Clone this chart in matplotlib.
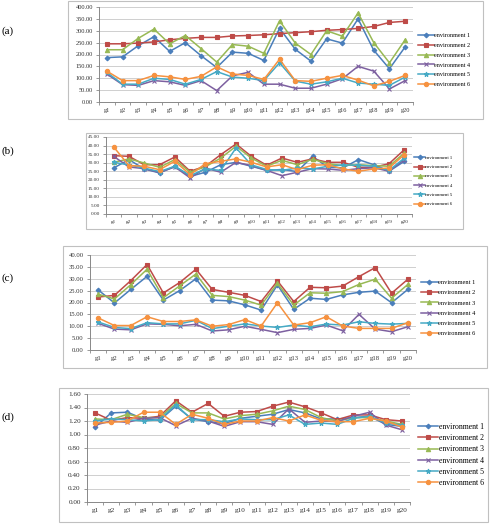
"""Four Excel-style line charts: trait means of 20 genotypes in 6 environments"""

import matplotlib
matplotlib.use('Agg')
import matplotlib.pyplot as plt
from matplotlib.patches import Rectangle
from matplotlib.ticker import MultipleLocator, FormatStrFormatter

GENOTYPES = ['g%d' % i for i in range(1, 21)]
ENV_LABELS = ['environment %d' % i for i in range(1, 7)]

# (a)
A_ENV1 = [187, 190, 237, 275, 213, 250, 195, 145, 210, 205, 175, 310, 222, 172, 266, 248, 350, 218, 140, 232]
A_ENV2 = [245, 245, 248, 253, 262, 268, 272, 272, 278, 280, 283, 288, 292, 296, 302, 305, 310, 318, 335, 340]
A_ENV3 = [220, 220, 268, 307, 245, 280, 225, 168, 242, 235, 205, 342, 248, 200, 300, 277, 375, 250, 165, 262]
A_ENV4 = [118, 73, 70, 90, 85, 70, 90, 48, 110, 125, 75, 75, 58, 58, 75, 98, 150, 130, 55, 90]
A_ENV5 = [125, 75, 75, 100, 95, 75, 95, 128, 105, 100, 90, 165, 88, 75, 85, 100, 80, 75, 70, 105]
A_ENV6 = [130, 90, 90, 112, 106, 95, 108, 148, 118, 112, 95, 180, 90, 87, 100, 112, 92, 68, 87, 112]

# (b)
B_ENV1 = [26.9, 31.8, 26.3, 24.0, 27.9, 22.0, 24.4, 28.8, 30.2, 27.9, 25.5, 26.0, 24.8, 33.7, 27.3, 27.0, 31.8, 28.8, 25.0, 30.8]
B_ENV2 = [34.1, 33.7, 28.8, 28.8, 33.3, 25.0, 27.9, 34.7, 40.9, 33.7, 28.5, 32.7, 30.2, 32.2, 30.2, 30.2, 27.3, 27.3, 29.4, 37.6]
B_ENV3 = [30.2, 32.2, 29.8, 27.3, 31.8, 24.4, 27.6, 32.7, 39.6, 32.7, 27.9, 31.4, 28.8, 32.0, 29.4, 28.3, 28.8, 28.3, 27.9, 35.7]
B_ENV4 = [33.7, 27.5, 26.5, 24.3, 27.5, 21.1, 26.8, 24.4, 30.2, 28.3, 25.5, 22.4, 24.4, 26.5, 26.3, 25.5, 26.5, 27.0, 25.0, 31.8]
B_ENV5 = [30.2, 28.7, 26.8, 24.8, 27.9, 22.5, 26.3, 25.5, 38.6, 28.7, 26.0, 25.5, 26.9, 26.3, 27.9, 28.7, 28.5, 27.9, 25.5, 32.7]
B_ENV6 = [39.2, 28.3, 27.9, 25.9, 30.8, 23.0, 29.4, 30.8, 32.2, 30.2, 27.5, 28.8, 25.9, 28.5, 28.8, 26.3, 25.0, 26.3, 26.9, 34.7]

# (c)
C_ENV1 = [25.3, 19.8, 25.5, 31.0, 21.0, 25.0, 30.0, 21.0, 20.7, 19.0, 16.8, 27.4, 17.1, 21.8, 21.3, 23.2, 24.3, 24.8, 19.9, 25.5]
C_ENV2 = [22.3, 23.0, 29.2, 36.0, 24.0, 28.4, 34.0, 25.5, 24.3, 23.0, 20.4, 29.1, 20.4, 26.4, 26.2, 26.9, 30.9, 34.7, 23.9, 29.8]
C_ENV3 = [23.5, 21.5, 27.5, 34.0, 22.0, 27.0, 32.0, 23.0, 22.5, 21.0, 18.9, 28.1, 18.9, 24.1, 23.9, 24.6, 27.6, 29.8, 21.8, 27.6]
C_ENV4 = [11.2, 8.8, 8.5, 11.0, 10.8, 10.2, 10.8, 8.0, 8.5, 10.0, 8.7, 7.3, 8.7, 9.1, 10.5, 8.1, 15.0, 8.8, 7.7, 9.8]
C_ENV5 = [11.8, 9.5, 9.0, 11.5, 11.0, 11.0, 12.5, 9.0, 10.0, 11.0, 10.1, 9.5, 10.5, 9.8, 10.9, 10.5, 11.9, 11.2, 10.9, 11.2]
C_ENV6 = [13.5, 10.3, 10.3, 14.0, 12.0, 12.0, 12.7, 10.0, 10.7, 12.8, 10.1, 19.9, 10.5, 11.5, 14.0, 10.1, 9.1, 9.1, 9.1, 11.5]

# (d)
D_ENV1 = [1.11, 1.32, 1.33, 1.23, 1.21, 1.42, 1.23, 1.19, 1.16, 1.24, 1.27, 1.30, 1.37, 1.32, 1.23, 1.23, 1.25, 1.27, 1.15, 1.12]
D_ENV2 = [1.32, 1.21, 1.25, 1.24, 1.27, 1.50, 1.33, 1.46, 1.27, 1.33, 1.34, 1.42, 1.48, 1.41, 1.32, 1.22, 1.29, 1.29, 1.22, 1.20]
D_ENV3 = [1.23, 1.22, 1.30, 1.25, 1.25, 1.46, 1.32, 1.32, 1.23, 1.28, 1.30, 1.35, 1.42, 1.37, 1.25, 1.20, 1.25, 1.25, 1.20, 1.15]
D_ENV4 = [1.14, 1.20, 1.18, 1.24, 1.25, 1.13, 1.24, 1.20, 1.12, 1.19, 1.19, 1.15, 1.38, 1.18, 1.20, 1.19, 1.27, 1.33, 1.14, 1.07]
D_ENV5 = [1.20, 1.23, 1.22, 1.20, 1.22, 1.44, 1.22, 1.22, 1.19, 1.23, 1.22, 1.22, 1.29, 1.15, 1.17, 1.15, 1.24, 1.27, 1.17, 1.14]
D_ENV6 = [1.17, 1.18, 1.20, 1.33, 1.33, 1.15, 1.30, 1.24, 1.15, 1.20, 1.20, 1.25, 1.20, 1.29, 1.21, 1.19, 1.19, 1.24, 1.20, 1.11]

COLORS = ['#4a7ebb', '#be4b48', '#98b954', '#7d60a0', '#46aac5', '#f69240']
MARKERS = ['D', 's', '^', 'x', '*', 'o']
MARKER_SIZES = [2.4, 3.1, 3.1, 3.0, 3.5, 3.1]
SERIF = ['Liberation Serif', 'DejaVu Serif']

W, H = 492, 525

# pixel layout: plot area (left, top, right, bottom), outer box, legend anchor
PANELS = [
    dict(tag='(a)', data=[A_ENV1, A_ENV2, A_ENV3, A_ENV4, A_ENV5, A_ENV6],
         plot=(99, 7, 413, 102), box=(68, 1, 483, 119), ylim=400, step=50,
         leg=(418, 60), tick_fs=4.6, leg_fs=4.4, leg_sp=0.75, leg_hl=2.6, tag_y=31),
    dict(tag='(b)', data=[B_ENV1, B_ENV2, B_ENV3, B_ENV4, B_ENV5, B_ENV6],
         plot=(106, 137, 412, 214), box=(86, 133, 463, 229), ylim=45, step=5,
         leg=(414, 181), tick_fs=3.8, leg_fs=3.3, leg_sp=1.1, leg_hl=2.4, tag_y=151),
    dict(tag='(c)', data=[C_ENV1, C_ENV2, C_ENV3, C_ENV4, C_ENV5, C_ENV6],
         plot=(90, 255, 416, 350), box=(63, 246, 487, 368), ylim=40, step=5,
         leg=(421, 308), tick_fs=4.8, leg_fs=4.6, leg_sp=0.75, leg_hl=2.6, tag_y=278),
    dict(tag='(d)', data=[D_ENV1, D_ENV2, D_ENV3, D_ENV4, D_ENV5, D_ENV6],
         plot=(87, 394, 410, 502), box=(59, 388, 488, 522), ylim=1.6, step=0.2,
         leg=(418, 455), tick_fs=5.2, leg_fs=5.6, leg_sp=0.42, leg_hl=2.6, tag_y=417),
]


def draw_panel(fig, p):
    l, t, r, b = p['plot']
    ax = fig.add_axes([l / W, 1 - b / H, (r - l) / W, (b - t) / H])
    x = range(len(GENOTYPES))

    for i, values in enumerate(p['data']):
        ax.plot(x, values, color=COLORS[i], marker=MARKERS[i],
                markersize=MARKER_SIZES[i], markeredgewidth=0.8,
                linewidth=1.1, label=ENV_LABELS[i], zorder=3 + i * 0.1)

    ax.set_xlim(-0.5, len(GENOTYPES) - 0.5)
    ax.set_ylim(0, p['ylim'])
    ax.yaxis.set_major_locator(MultipleLocator(p['step']))
    ax.yaxis.set_major_formatter(FormatStrFormatter('%.2f'))
    ax.set_xticks(list(x))
    ax.set_xticklabels(GENOTYPES)
    # Excel-like ticks between categories
    ax.set_xticks([k + 0.5 for k in range(-1, len(GENOTYPES))], minor=True)
    ax.tick_params(axis='x', which='major', length=0, pad=4,
                   labelsize=p['tick_fs'], colors='#333333')
    ax.tick_params(axis='x', which='minor', length=2.5, width=0.6, color='#888888')
    ax.tick_params(axis='y', length=2.5, width=0.6, color='#888888',
                   labelsize=p['tick_fs'], labelcolor='#333333', pad=2)
    for lab in ax.get_xticklabels() + ax.get_yticklabels():
        lab.set_family(SERIF)

    ax.grid(axis='y', color='#c8c8c8', linewidth=0.6)
    ax.set_axisbelow(True)
    for side in ('top', 'right'):
        ax.spines[side].set_visible(False)
    for side in ('left', 'bottom'):
        ax.spines[side].set_color('#888888')
        ax.spines[side].set_linewidth(0.7)

    lx, ly = p['leg']
    ax.legend(loc='center left', bbox_to_anchor=(lx / W, 1 - ly / H),
              bbox_transform=fig.transFigure, frameon=False,
              prop={'family': SERIF, 'size': p['leg_fs']},
              handlelength=p['leg_hl'], handletextpad=0.1,
              labelspacing=p['leg_sp'], borderaxespad=0, borderpad=0)

    bl, bt, br, bb = p['box']
    fig.patches.append(Rectangle((bl / W, 1 - bb / H), (br - bl) / W, (bb - bt) / H,
                                 transform=fig.transFigure, fill=False,
                                 edgecolor='#c0c0c0', linewidth=0.8))
    fig.text(1 / W, 1 - p['tag_y'] / H, p['tag'], family=SERIF, fontsize=8,
             va='center', ha='left')


fig = plt.figure(figsize=(W / 100, H / 100), dpi=100)
for panel in PANELS:
    draw_panel(fig, panel)

fig.savefig('out.png', dpi=100)
